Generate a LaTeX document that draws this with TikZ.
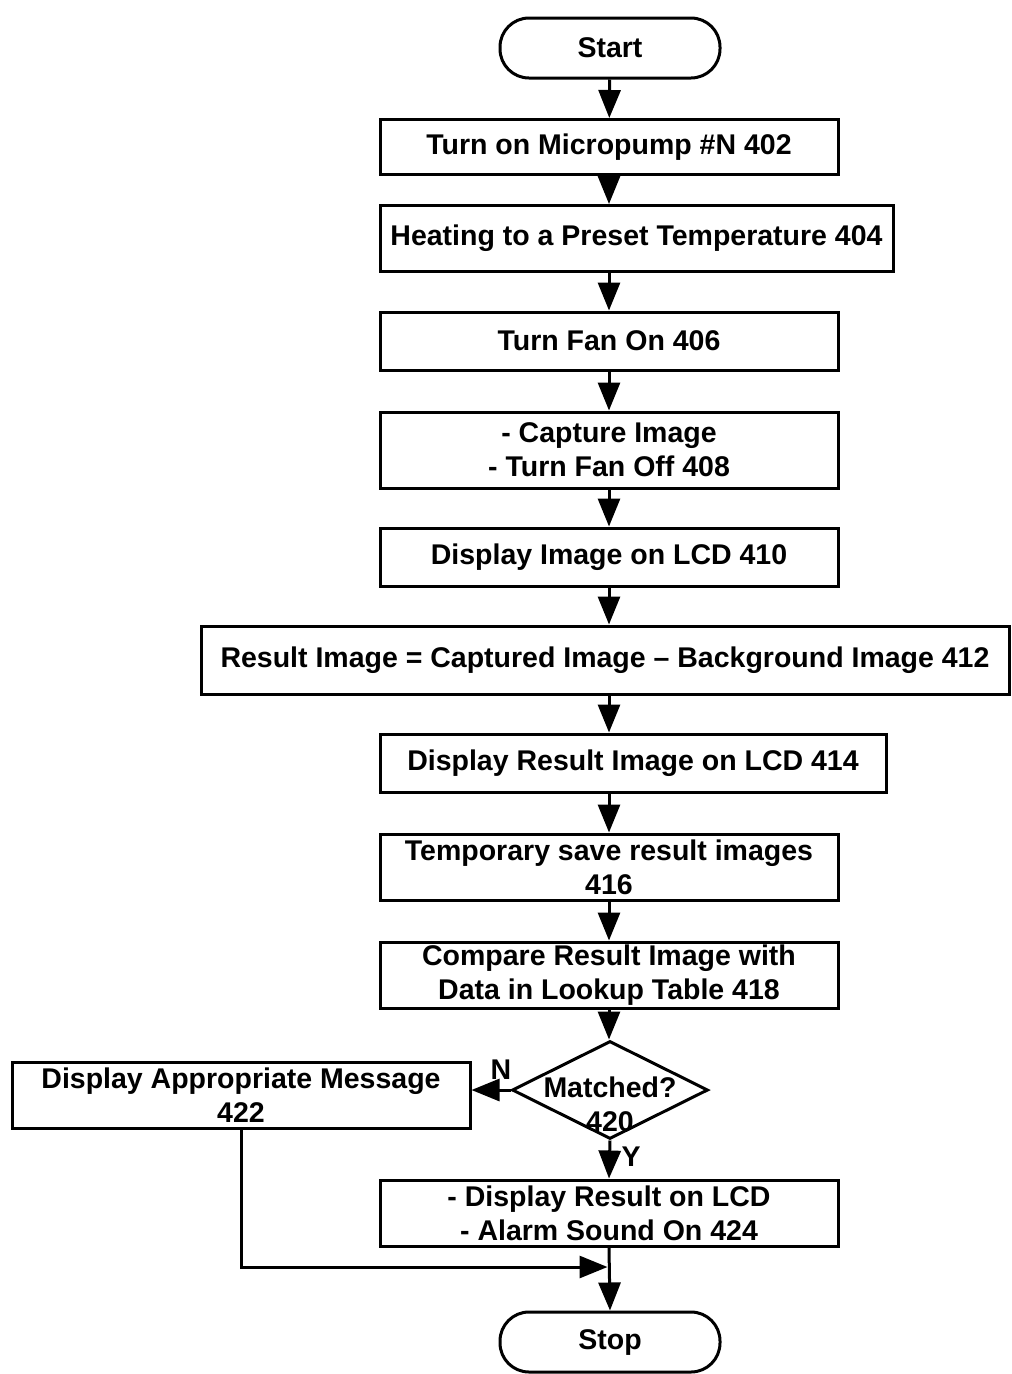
\documentclass[tikz,border=0pt]{standalone}
\usepackage{fontspec}
\setmainfont{Liberation Sans}
\usetikzlibrary{arrows.meta,shapes.geometric}
\begin{document}
\begin{tikzpicture}[x=1pt,y=1pt,
  every node/.style={font=\fontsize{28.5}{34}\selectfont\bfseries},
  box/.style={draw,line width=3pt,rectangle,inner sep=0pt,align=center},
  term/.style={draw,line width=3pt,rectangle,rounded corners=29pt,inner sep=0pt,minimum width=220pt,minimum height=60pt},
  dec/.style={draw,line width=3pt,diamond,inner sep=0pt,minimum width=196pt,minimum height=98pt},
  txt/.style={inner sep=0pt,align=center},
  arr/.style={line width=3pt,-{Triangle[width=22pt,length=28pt]}},
  ln/.style={line width=3pt}]
\path[use as bounding box] (0,0) rectangle (1012,-1374);
\node[term] (start) at (610,-48) {Start};
\node[box,minimum width=458pt,minimum height=55pt] (b402) at (609,-147) {Turn on Micropump \#N 402};
\node[box,minimum width=513pt,minimum height=66pt] (b404) at (636.5,-238.5) {Heating to a Preset Temperature 404};
\node[box,minimum width=458pt,minimum height=58pt] (b406) at (609,-341) {Turn Fan On 406};
\node[box,minimum width=458pt,minimum height=76pt] (b408) at (609,-450) {- Capture Image\\- Turn Fan Off 408};
\node[box,minimum width=458pt,minimum height=58pt] (b410) at (609,-557) {Display Image on LCD 410};
\node[box,minimum width=808pt,minimum height=68pt] (b412) at (605,-660) {Result Image = Captured Image -- Background Image 412};
\node[box,minimum width=506pt,minimum height=58pt] (b414) at (633,-763) {Display Result Image on LCD 414};
\node[box,minimum width=458pt,minimum height=66pt] (b416) at (609,-867) {Temporary save result images\\416};
\node[box,minimum width=458pt,minimum height=66pt] (b418) at (609,-975) {Compare Result Image with\\Data in Lookup Table 418};
\node[dec] (d420) at (610,-1090) {};
\node[txt] (t420) at (610,-1104) {Matched?\\420};
\node[box,minimum width=458pt,minimum height=66pt] (b422) at (241,-1095) {Display Appropriate Message\\422};
\node[box,minimum width=458pt,minimum height=66pt] (b424) at (609,-1213) {- Display Result on LCD\\- Alarm Sound On 424};
\node[term] (stop) at (610,-1342) {Stop};
\node[txt] (lN) at (501,-1070) {N};
\node[txt] (lY) at (631,-1157) {Y};
\coordinate (j) at (609,-1267);
\draw[arr] (start) -- (b402);
\draw[arr] (b402) -- (b402.south |- b404.north);
\draw[arr] (b402.south |- b404.south) -- (b406);
\draw[arr] (b406) -- (b408);
\draw[arr] (b408) -- (b410);
\draw[arr] (b410) -- (b410.south |- b412.north);
\draw[arr] (b410.south |- b412.south) -- (b410.south |- b414.north);
\draw[arr] (b410.south |- b414.south) -- (b416);
\draw[arr] (b416) -- (b418);
\draw[arr] (b418) -- (b418.south |- d420.north);
\draw[arr] (d420.south) -- (b424.north);
\draw[arr] (d420.west) -- (d420.west -| b422.east);
\draw[arr,shorten >=1.5pt] (b422.south) |- (j);
\draw[arr] (b424.south) -- (stop.north);
\end{tikzpicture}
\end{document}
